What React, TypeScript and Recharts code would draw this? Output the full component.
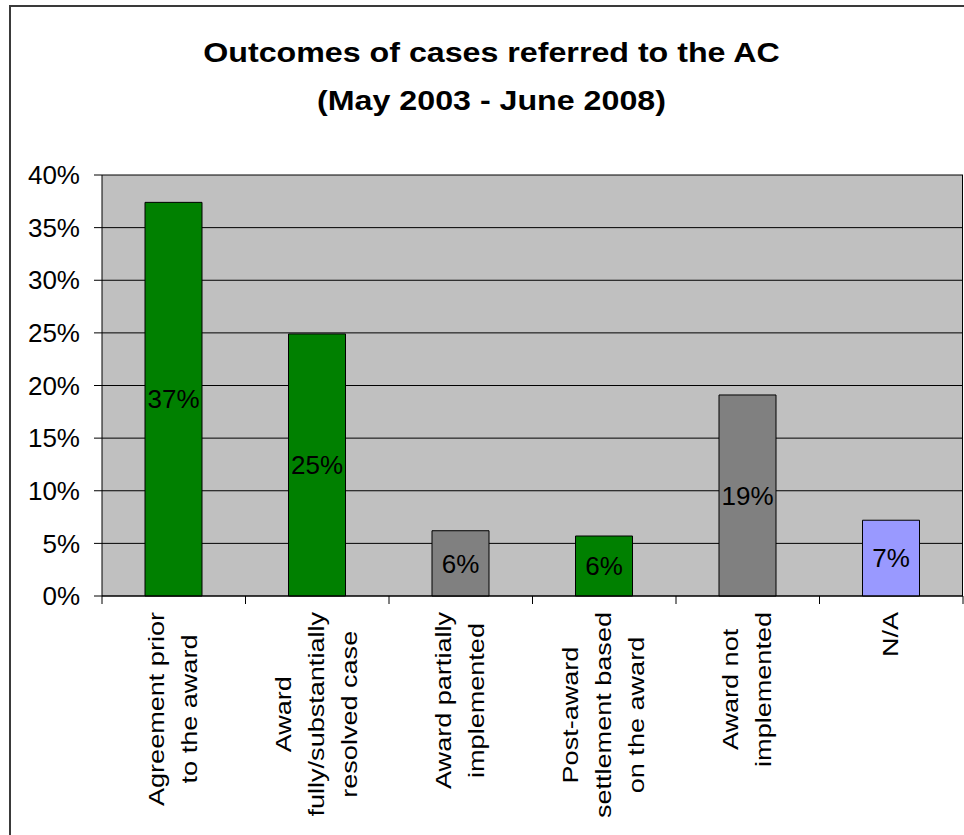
import React from "react";
import { BarChart, Bar, XAxis, YAxis, CartesianGrid, Cell, LabelList } from "recharts";

const titleLines = ["Outcomes of cases referred to the AC", "(May 2003 - June 2008)"];
const categories = [
  "Agreement prior to the award",
  "Award fully/substantially resolved case",
  "Award partially implemented",
  "Post-award settlement based on the award",
  "Award not implemented",
  "N/A",
];
const categoryLines = [
  ["Agreement prior", "to the award"],
  ["Award", "fully/substantially", "resolved case"],
  ["Award partially", "implemented"],
  ["Post-award", "settlement based", "on the award"],
  ["Award not", "implemented"],
  ["N/A"],
];
const values = [0.374, 0.249, 0.062, 0.057, 0.191, 0.072];
const barColors = ["#008000", "#008000", "#808080", "#008000", "#808080", "#9999FF"];
const yTicks = [0, 0.05, 0.1, 0.15, 0.2, 0.25, 0.3, 0.35, 0.4];

const data = categories.map((c, i) => ({ name: c, value: values[i] }));

const FONT = "'Liberation Sans', Arial, Helvetica, sans-serif";
const W = 964;
const H = 835;
const PLOT_LEFT = 102;
const PLOT_RIGHT = 963;
const BAND = (PLOT_RIGHT - PLOT_LEFT) / categories.length;
const LABEL_SIZE = 22;
const LABEL_STRETCH = 1.23;
const LINE_GAP = 33;

let ctx: CanvasRenderingContext2D | null = null;
const measure = (s: string, font: string) => {
  if (!ctx) ctx = document.createElement("canvas").getContext("2d");
  if (!ctx) return s.length * 11;
  ctx.font = font;
  return ctx.measureText(s).width;
};

const XTick = (props: any) => {
  const { x, y, payload, index } = props;
  const idx = categories.indexOf(payload.value);
  const lines = categoryLines[idx >= 0 ? idx : index] || [String(payload.value)];
  const axisY = y - 16;
  const n = lines.length;
  const maxW = Math.max(...lines.map((l) => measure(l, `${LABEL_SIZE}px ${FONT}`)));
  return (
    <g>
      <line x1={x - BAND / 2} y1={axisY} x2={x - BAND / 2} y2={axisY + 8} stroke="#000" />
      {idx === categories.length - 1 && (
        <line x1={x + BAND / 2} y1={axisY} x2={x + BAND / 2} y2={axisY + 8} stroke="#000" />
      )}
      <g transform={`translate(${x},${y}) rotate(-90) scale(${LABEL_STRETCH},1)`}>
        <text textAnchor="middle" fontSize={LABEL_SIZE} fontFamily={FONT} fill="#000">
          {lines.map((l, i) => (
            <tspan key={i} x={-maxW / 2} y={7 + (i - (n - 1) / 2) * LINE_GAP}>
              {l}
            </tspan>
          ))}
        </text>
      </g>
    </g>
  );
};

const pct = (v: any) => `${Math.round(Number(v) * 100)}%`;

export default function App() {
  return (
    <div style={{ position: "absolute", left: 0, top: 0, width: W, height: H, overflow: "hidden", background: "#fff" }}>
      <div style={{ position: "absolute", left: 0, top: 0 }}>
        <BarChart
          width={W}
          height={H}
          data={data}
          margin={{ top: 175, right: W - PLOT_RIGHT, bottom: 8, left: 2 }}
          barSize={57}
        >
          <CartesianGrid
            fill="#C0C0C0"
            stroke="#000"
            strokeOpacity={1}
            vertical={true}
            verticalPoints={[PLOT_RIGHT - 0.5]}
          />
          <XAxis
            dataKey="name"
            height={231}
            interval={0}
            axisLine={{ stroke: "#000" }}
            tickLine={{ stroke: "none" }}
            tickSize={8}
            tickMargin={8}
            tick={<XTick />}
          />
          <YAxis
            width={100}
            domain={[0, 0.4]}
            ticks={yTicks}
            interval={0}
            tickFormatter={pct}
            axisLine={{ stroke: "#000" }}
            tickLine={{ stroke: "#000" }}
            tickSize={8}
            tickMargin={14}
            tick={{ fontSize: 26, fill: "#000", fontFamily: FONT }}
          />
          <Bar dataKey="value" stroke="#000" strokeWidth={1} isAnimationActive={false}>
            {data.map((d, i) => (
              <Cell key={d.name} fill={barColors[i]} />
            ))}
            <LabelList
              dataKey="value"
              position="center"
              formatter={pct}
              fill="#000"
              fontSize={26}
              fontFamily={FONT}
            />
          </Bar>
        </BarChart>
      </div>
      <svg width={W} height={H} style={{ position: "absolute", left: 0, top: 0, pointerEvents: "none" }}>
        <rect x={10} y={6} width={1100} height={1000} fill="none" stroke="#3a3a3a" strokeWidth={2} />
        {titleLines.map((t, i) => (
          <text
            key={i}
            transform={`translate(491.5,${62 + i * 48}) scale(1.15,1)`}
            textAnchor="middle"
            fontSize={28}
            fontWeight="bold"
            fontFamily={FONT}
            fill="#000"
          >
            {t}
          </text>
        ))}
      </svg>
    </div>
  );
}
